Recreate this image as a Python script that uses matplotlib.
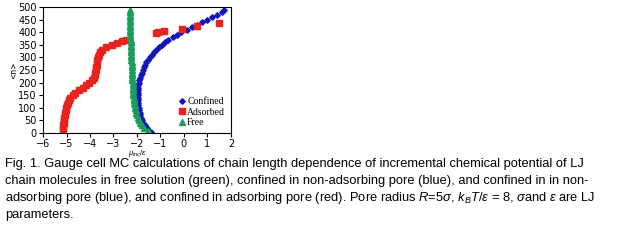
import matplotlib
matplotlib.use('Agg')
import matplotlib.pyplot as plt

# Free solution (green triangles): chain length n vs mu_inc/eps
FREE_N = [5, 10, 20, 30, 40, 50, 60, 70, 80, 90, 100, 110, 120, 130, 140, 150, 160,
          170, 180, 190, 200, 210, 220, 230, 240, 250, 260, 270, 280, 290, 300, 310,
          320, 330, 340, 350, 360, 370, 380, 390, 400, 410, 420, 430, 440, 450, 460,
          470, 480, 490]
FREE_MU = [-1.50, -1.55, -1.68, -1.78, -1.86, -1.92, -1.96, -2.00, -2.03, -2.06, -2.08,
           -2.10, -2.11, -2.13, -2.14, -2.15, -2.16, -2.17, -2.18, -2.185, -2.19, -2.195,
           -2.20, -2.205, -2.21, -2.215, -2.22, -2.225, -2.23, -2.235, -2.24, -2.245,
           -2.25, -2.255, -2.26, -2.265, -2.27, -2.275, -2.28, -2.285, -2.29, -2.29,
           -2.29, -2.295, -2.30, -2.30, -2.30, -2.305, -2.31, -2.31]

# Confined in non-adsorbing pore (blue diamonds)
CONF_N = [5, 10, 20, 30, 40, 50, 60, 70, 80, 90, 100, 110, 120, 130, 140, 150, 160,
          170, 180, 190, 200, 210, 220, 230, 240, 250, 260, 270, 280, 290, 300, 310,
          320, 330, 340, 350, 360, 370, 380, 390, 400, 410, 420, 430, 440, 450, 460,
          470, 480, 487]
CONF_MU = [-1.40, -1.47, -1.57, -1.66, -1.73, -1.78, -1.82, -1.85, -1.88, -1.91, -1.93,
           -1.95, -1.96, -1.97, -1.97, -1.97, -1.97, -1.965, -1.96, -1.945, -1.93, -1.905,
           -1.88, -1.84, -1.80, -1.76, -1.71, -1.66, -1.60, -1.53, -1.45, -1.37, -1.28,
           -1.18, -1.07, -0.95, -0.82, -0.66, -0.48, -0.30, -0.12, 0.12, 0.35, 0.57,
           0.78, 1.00, 1.20, 1.40, 1.62, 1.72]

# Adsorbing pore (red squares)
ADS_N = [12, 20, 30, 40, 50, 60, 70, 80, 90, 100, 110, 120, 130, 140, 150, 160, 170,
         180, 190, 200, 210, 220, 230, 240, 250, 260, 270, 280, 290, 300, 310, 320, 330,
         340, 350, 358, 364, 368, 398, 399, 405, 414, 426, 435]
ADS_MU = [-5.16, -5.15, -5.13, -5.12, -5.10, -5.09, -5.07, -5.05, -5.03, -5.01, -4.98,
          -4.95, -4.91, -4.84, -4.74, -4.62, -4.46, -4.29, -4.16, -4.03, -3.93, -3.84,
          -3.80, -3.78, -3.76, -3.73, -3.72, -3.71, -3.69, -3.68, -3.62, -3.58, -3.50,
          -3.32, -3.08, -2.86, -2.62, -2.45, -1.20, -1.10, -0.84, -0.10, 0.54, 1.50]

X_TICKS = [-6, -5, -4, -3, -2, -1, 0, 1, 2]
Y_TICKS = [0, 50, 100, 150, 200, 250, 300, 350, 400, 450, 500]

CAPTION = [
    'Fig. 1. Gauge cell MC calculations of chain length dependence of incremental chemical potential of LJ',
    'chain molecules in free solution (green), confined in non-adsorbing pore (blue), and confined in in non-',
    r'adsorbing pore (blue), and confined in adsorbing pore (red). Pore radius $R$=5$\sigma$, $k_BT/\varepsilon$ = 8, $\sigma$and $\varepsilon$ are LJ',
    'parameters.',
]

BLUE = '#1414c0'
RED = '#e8221c'
GREEN = '#1a9e5a'

plt.rcParams['mathtext.fontset'] = 'custom'
plt.rcParams['mathtext.rm'] = 'Liberation Sans'
plt.rcParams['mathtext.it'] = 'Liberation Sans:italic'

fig = plt.figure(figsize=(6.24, 2.41), dpi=100)
ax = fig.add_axes([0.069, 0.448, 0.301, 0.523])

ax.plot(CONF_MU, CONF_N, linestyle='none', marker='D', markersize=2.8, color=BLUE, label='Confined')
ax.plot(ADS_MU, ADS_N, linestyle='none', marker='s', markersize=4.4, color=RED, label='Adsorbed')
ax.plot(FREE_MU, FREE_N, linestyle='none', marker='^', markersize=3.8, color=GREEN, label='Free')

ax.set_xlim(-6, 2)
ax.set_ylim(0, 500)
ax.set_xticks(X_TICKS)
ax.set_yticks(Y_TICKS)
ax.tick_params(direction='out', length=3, width=0.8, labelsize=7, pad=1.5)
for lbl in ax.get_xticklabels() + ax.get_yticklabels():
    lbl.set_family('DejaVu Sans')
for s in ax.spines.values():
    s.set_linewidth(0.8)

ax.set_xlabel(r'$\mu_{inc}/\varepsilon$', fontsize=5.5, va='center')
ax.xaxis.set_label_coords(0.5, -0.165)
ax.set_ylabel('<n>', fontsize=5.5, labelpad=0)

leg = ax.legend(loc='lower right', frameon=False, handlelength=0.6,
                handletextpad=0.2, labelspacing=0.15, borderaxespad=0.2,
                prop={'family': 'Liberation Serif', 'size': 7})

y0 = 1 - 164 / 241
for i, line in enumerate(CAPTION):
    fig.text(5 / 624, y0 - i * 17 / 241, line, fontsize=9.3, family='Liberation Sans',
             va='center', ha='left')

fig.savefig('out.png', dpi=100)
